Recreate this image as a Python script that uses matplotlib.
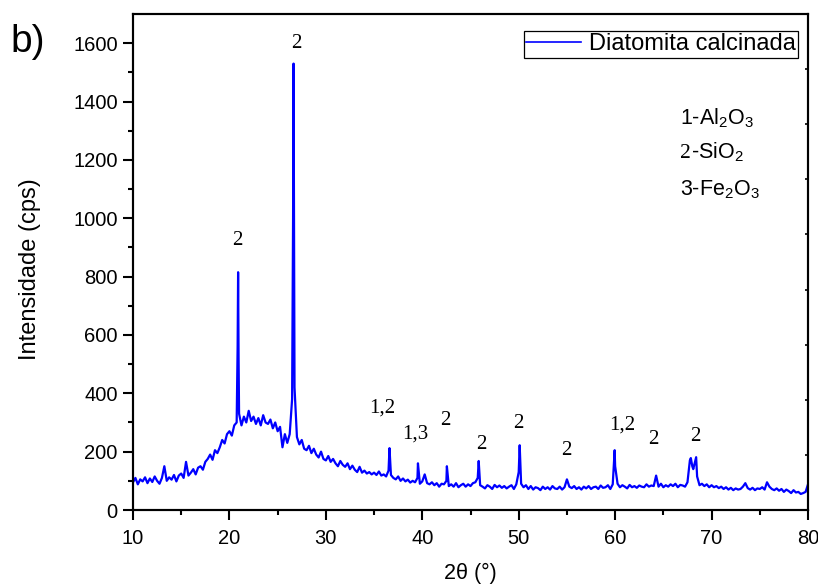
import numpy as np
import matplotlib
matplotlib.use("Agg")
import matplotlib.pyplot as plt

plt.rcParams['font.family'] = ['Liberation Sans', 'DejaVu Sans']
plt.rcParams['mathtext.fontset'] = 'custom'
plt.rcParams['mathtext.rm'] = 'Liberation Sans'
plt.rcParams['mathtext.it'] = 'Liberation Sans:italic'

# background trace, 2theta = 10 ... 80 in 0.25 deg steps (4 values per degree)
bg_start, bg_step = 10.0, 0.25
bg_counts = [
    95, 110, 88, 105,      # 10
    98, 112, 92, 108,      # 11
    96, 115, 100, 90,      # 12
    110, 150, 100, 112,    # 13
    104, 120, 98, 118,     # 14
    125, 110, 165, 118,    # 15
    128, 140, 122, 145,    # 16
    150, 138, 165, 175,    # 17
    190, 172, 205, 195,    # 18
    215, 240, 228, 260,    # 19
    270, 255, 290, 300,    # 20
    330, 290, 320, 300,    # 21
    340, 305, 320, 295,    # 22
    315, 290, 325, 300,    # 23
    295, 310, 280, 300,    # 24
    270, 285, 215, 260,    # 25
    230, 260, 380, 420,    # 26
    250, 225, 240, 210,    # 27
    205, 220, 195, 210,    # 28
    190, 180, 200, 175,    # 29
    170, 185, 165, 175,    # 30
    160, 150, 168, 155,    # 31
    148, 160, 140, 152,    # 32
    138, 130, 148, 128,    # 33
    135, 125, 130, 122,    # 34
    128, 120, 132, 118,    # 35
    122, 115, 135, 120,    # 36
    110, 105, 115, 100,    # 37
    108, 98, 104, 94,      # 38
    100, 95, 110, 90,      # 39
    98, 122, 92, 88,       # 40
    95, 85, 92, 80,        # 41
    90, 88, 100, 82,       # 42
    88, 80, 92, 78,        # 43
    85, 90, 80, 88,        # 44
    82, 92, 95, 110,       # 45
    85, 80, 74, 85,        # 46
    80, 72, 86, 78,        # 47
    84, 76, 82, 74,        # 48
    80, 85, 72, 88,        # 49
    130, 90, 78, 85,       # 50
    72, 82, 70, 78,        # 51
    75, 68, 80, 72,        # 52
    78, 70, 82, 74,        # 53
    72, 80, 70, 78,        # 54
    105, 80, 75, 82,       # 55
    72, 78, 70, 80,        # 56
    74, 82, 72, 78,        # 57
    80, 72, 84, 76,        # 58
    78, 85, 72, 88,        # 59
    150, 90, 78, 85,       # 60
    80, 74, 86, 78,        # 61
    82, 76, 84, 80,        # 62
    78, 88, 80, 84,        # 63
    82, 118, 80, 90,       # 64
    78, 85, 80, 88,        # 65
    82, 90, 78, 86,        # 66
    84, 80, 95, 170,       # 67
    150, 160, 115, 85,     # 68
    90, 82, 88, 78,        # 69
    85, 78, 82, 75,        # 70
    80, 72, 78, 70,        # 71
    76, 68, 74, 70,        # 72
    72, 80, 92, 75,        # 73
    70, 76, 68, 74,        # 74
    72, 78, 70, 95,        # 75
    80, 72, 68, 74,        # 76
    66, 72, 62, 70,        # 77
    65, 58, 68, 60,        # 78
    62, 55, 58, 62,        # 79
    88,                    # 80
]

# sharp reflections
peak_theta = [20.85, 20.9, 20.95, 26.6, 26.65, 26.7, 36.6, 39.55, 42.55,
              45.85, 50.1, 59.95, 67.85, 68.1, 68.4]
peak_counts = [560, 815, 520, 1000, 1530, 1000, 212, 160, 150,
               168, 222, 205, 178, 140, 181]

# phase labels above the peaks
label_text = ['2', '2', '1,2', '1,3', '2', '2', '2', '2', '1,2', '2', '2']
label_x = [26.9, 20.8, 35.85, 39.25, 42.35, 46.1, 49.96, 54.9, 60.7, 63.95, 68.28]
label_y = [1600, 925, 349, 260, 306, 226, 298, 203, 291, 240, 253]

bg_theta = bg_start + bg_step * np.arange(len(bg_counts))
theta = np.concatenate([bg_theta, peak_theta])
counts = np.concatenate([bg_counts, peak_counts])
order = np.argsort(theta)
theta, counts = theta[order], counts[order]

fig = plt.figure(figsize=(8.18, 5.85), dpi=100)
ax = fig.add_axes([133/818, 1-510/585, 675/818, 496/585])

ax.plot(theta, counts, color='#0000ff', lw=1.6, label='Diatomita calcinada')

ax.set_xlim(10, 80)
ax.set_ylim(0, 1700)
ax.set_xticks(np.arange(10, 81, 10))
ax.set_xticks(np.arange(15, 80, 10), minor=True)
ax.set_yticks(np.arange(0, 1601, 200))
ax.set_yticks(np.arange(100, 1700, 200), minor=True)
ax.tick_params(which='major', direction='out', length=7, width=1.5,
               labelsize=14.5, pad=4)
ax.tick_params(axis='x', which='major', pad=7)
ax.tick_params(which='minor', direction='out', length=3.8, width=1.5)
for s in ax.spines.values():
    s.set_linewidth(1.5)

# right axis: small inward ticks only
ax2 = ax.twinx()
ax2.set_ylim(0, 1700)
ax2.set_yticks(np.linspace(0, 1700, 10))
ax2.tick_params(direction='in', length=2.5, width=1.2, labelright=False)
for s in ax2.spines.values():
    s.set_linewidth(1.5)

for t, x, y in zip(label_text, label_x, label_y):
    ax.text(x, y, t, ha='center', va='center', fontsize=15,
            family=['Liberation Serif', 'DejaVu Serif'])

ax.text(66.73, 1322, '1-Al$_2$O$_3$', fontsize=15.5, va='baseline')
ax.text(66.73, 1206, '2', fontsize=15.5, va='baseline',
        family=['Liberation Serif', 'DejaVu Serif'])
ax.text(67.85, 1206, '-SiO$_2$', fontsize=15.5, va='baseline')
ax.text(66.73, 1079, '3-Fe$_2$O$_3$', fontsize=15.5, va='baseline')

leg = ax.legend(loc='upper right', bbox_to_anchor=(798/818, 1-31/585),
                bbox_transform=fig.transFigure, fontsize=17, frameon=True,
                fancybox=False, framealpha=1, edgecolor='black',
                borderpad=0.1, borderaxespad=0, handlelength=2.3,
                handletextpad=0.35)
leg.get_frame().set_linewidth(0.9)
leg.get_lines()[0].set_linewidth(1.2)

fig.text(30/818, 1-269/585, 'Intensidade (cps)', rotation=90,
         ha='center', va='center', fontsize=17)
fig.text(470/818, 1-573/585, '2θ (°)', ha='center', va='center', fontsize=15.5)
fig.text(28/818, 1-42/585, 'b)', ha='center', va='center', fontsize=28)

fig.savefig('out.png', dpi=100)
